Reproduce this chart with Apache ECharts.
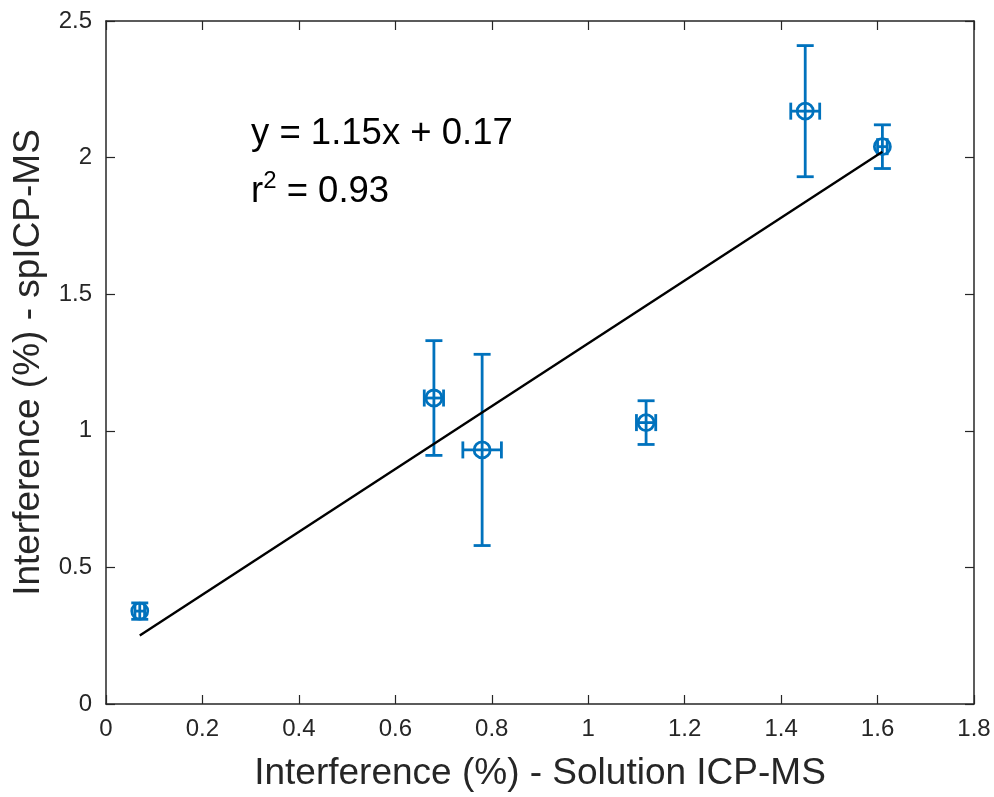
<!DOCTYPE html>
<html>
<head>
<meta charset="utf-8">
<script src="https://cdn.jsdelivr.net/npm/echarts@6/dist/echarts.min.js"></script>
<style>
  html, body { margin: 0; padding: 0; background: #fff; }
  #chart { width: 994px; height: 797px; }
</style>
</head>
<body>
<div id="chart"></div>
<script>
// Interference measured by solution ICP-MS (x) vs single-particle ICP-MS (y)
const xVals = [0.07, 0.68, 0.78, 1.12, 1.45, 1.61];
const yVals = [0.34, 1.12, 0.93, 1.03, 2.17, 2.04];
const xErr  = [0.01, 0.02, 0.04, 0.02, 0.03, 0.01];
const yErr  = [0.03, 0.21, 0.35, 0.08, 0.24, 0.08];

// Linear fit shown on the plot
const fitSlope = 1.15;
const fitIntercept = 0.17;
const fitR2 = 0.93;

const xTicks = ['0', '0.2', '0.4', '0.6', '0.8', '1', '1.2', '1.4', '1.6', '1.8'];
const yTicks = ['0', '0.5', '1', '1.5', '2', '2.5'];

const BLUE = '#0072BD';
const AXIS = '#262626';
const FONT = '"Liberation Sans", Arial, sans-serif';

const points = xVals.map((x, i) => [x, yVals[i], xErr[i], yErr[i]]);
const xMinData = Math.min(...xVals);
const xMaxData = Math.max(...xVals);
const fitLine = [
  [xMinData, fitSlope * xMinData + fitIntercept],
  [xMaxData, fitSlope * xMaxData + fitIntercept]
];

function renderErrorPoint(params, api) {
  const x = api.value(0), y = api.value(1);
  const ex = api.value(2), ey = api.value(3);
  const c = api.coord([x, y]);
  const top = api.coord([x, y + ey]);
  const bot = api.coord([x, y - ey]);
  const lft = api.coord([x - ex, y]);
  const rgt = api.coord([x + ex, y]);
  const cap = 8.5;
  const style = { stroke: BLUE, lineWidth: 2.8, fill: null };
  const seg = (x1, y1, x2, y2) => ({ type: 'line', shape: { x1, y1, x2, y2 }, style });
  return {
    type: 'group',
    children: [
      seg(top[0], top[1], bot[0], bot[1]),
      seg(top[0] - cap, top[1], top[0] + cap, top[1]),
      seg(bot[0] - cap, bot[1], bot[0] + cap, bot[1]),
      seg(lft[0], lft[1], rgt[0], rgt[1]),
      seg(lft[0], lft[1] - cap, lft[0], lft[1] + cap),
      seg(rgt[0], rgt[1] - cap, rgt[0], rgt[1] + cap),
      { type: 'circle', shape: { cx: c[0], cy: c[1], r: 8 }, style: { stroke: BLUE, lineWidth: 2.8, fill: 'rgba(0,0,0,0)' } }
    ]
  };
}

const chart = echarts.init(document.getElementById('chart'), null, { renderer: 'canvas' });

const commonAxisLine = { show: true, onZero: false, lineStyle: { color: AXIS, width: 1.5 } };
const commonTick = { show: true, inside: true, length: 9, lineStyle: { color: AXIS, width: 1.2 } };

chart.setOption({
  animation: false,
  backgroundColor: '#ffffff',
  grid: { left: 106, right: 20, top: 21, bottom: 90, containLabel: false },
  xAxis: [
    {
      type: 'value', min: 0, max: 1.8, interval: 0.2, position: 'bottom',
      name: 'Interference (%) - Solution ICP-MS',
      nameLocation: 'middle', nameGap: 51,
      nameTextStyle: { fontFamily: FONT, fontSize: 37, color: AXIS },
      axisLine: commonAxisLine, axisTick: commonTick,
      axisLabel: {
        margin: 13, fontFamily: FONT, fontSize: 24, color: AXIS,
        formatter: (v) => xTicks[Math.round(v / 0.2)]
      },
      splitLine: { show: false }
    },
    {
      type: 'value', min: 0, max: 1.8, interval: 0.2, position: 'top',
      axisLine: commonAxisLine, axisTick: commonTick,
      axisLabel: { show: false }, splitLine: { show: false }
    }
  ],
  yAxis: [
    {
      type: 'value', min: 0, max: 2.5, interval: 0.5, position: 'left',
      name: 'Interference (%) - spICP-MS',
      nameLocation: 'middle', nameGap: 49,
      nameTextStyle: { fontFamily: FONT, fontSize: 37, color: AXIS },
      axisLine: commonAxisLine, axisTick: commonTick,
      axisLabel: {
        margin: 14, fontFamily: FONT, fontSize: 24, color: AXIS,
        formatter: (v) => yTicks[Math.round(v / 0.5)]
      },
      splitLine: { show: false }
    },
    {
      type: 'value', min: 0, max: 2.5, interval: 0.5, position: 'right',
      axisLine: commonAxisLine, axisTick: commonTick,
      axisLabel: { show: false }, splitLine: { show: false }
    }
  ],
  series: [
    {
      type: 'custom',
      name: 'measurements',
      xAxisIndex: 0, yAxisIndex: 0,
      data: points,
      encode: { x: 0, y: 1 },
      renderItem: renderErrorPoint,
      z: 2
    },
    {
      type: 'line',
      name: 'fit',
      xAxisIndex: 0, yAxisIndex: 0,
      data: fitLine,
      symbol: 'none',
      lineStyle: { color: '#000', width: 2.4 },
      z: 3
    }
  ],
  graphic: [
    {
      type: 'text', left: 251, top: 115,
      style: {
        text: 'y = ' + fitSlope.toFixed(2) + 'x + ' + fitIntercept.toFixed(2),
        font: '36.5px ' + FONT, fill: '#000'
      }
    },
    {
      type: 'text', left: 251, top: 169,
      style: {
        text: '{b|r}{s|2}{b| = ' + fitR2.toFixed(2) + '}',
        rich: {
          b: { fontFamily: FONT, fontSize: 36.5, fill: '#000', color: '#000', lineHeight: 42, verticalAlign: 'bottom' },
          s: { fontFamily: FONT, fontSize: 24, fill: '#000', color: '#000', lineHeight: 42, verticalAlign: 'bottom', padding: [0, 0, 17, 0] }
        }
      }
    }
  ]
});
</script>
</body>
</html>
